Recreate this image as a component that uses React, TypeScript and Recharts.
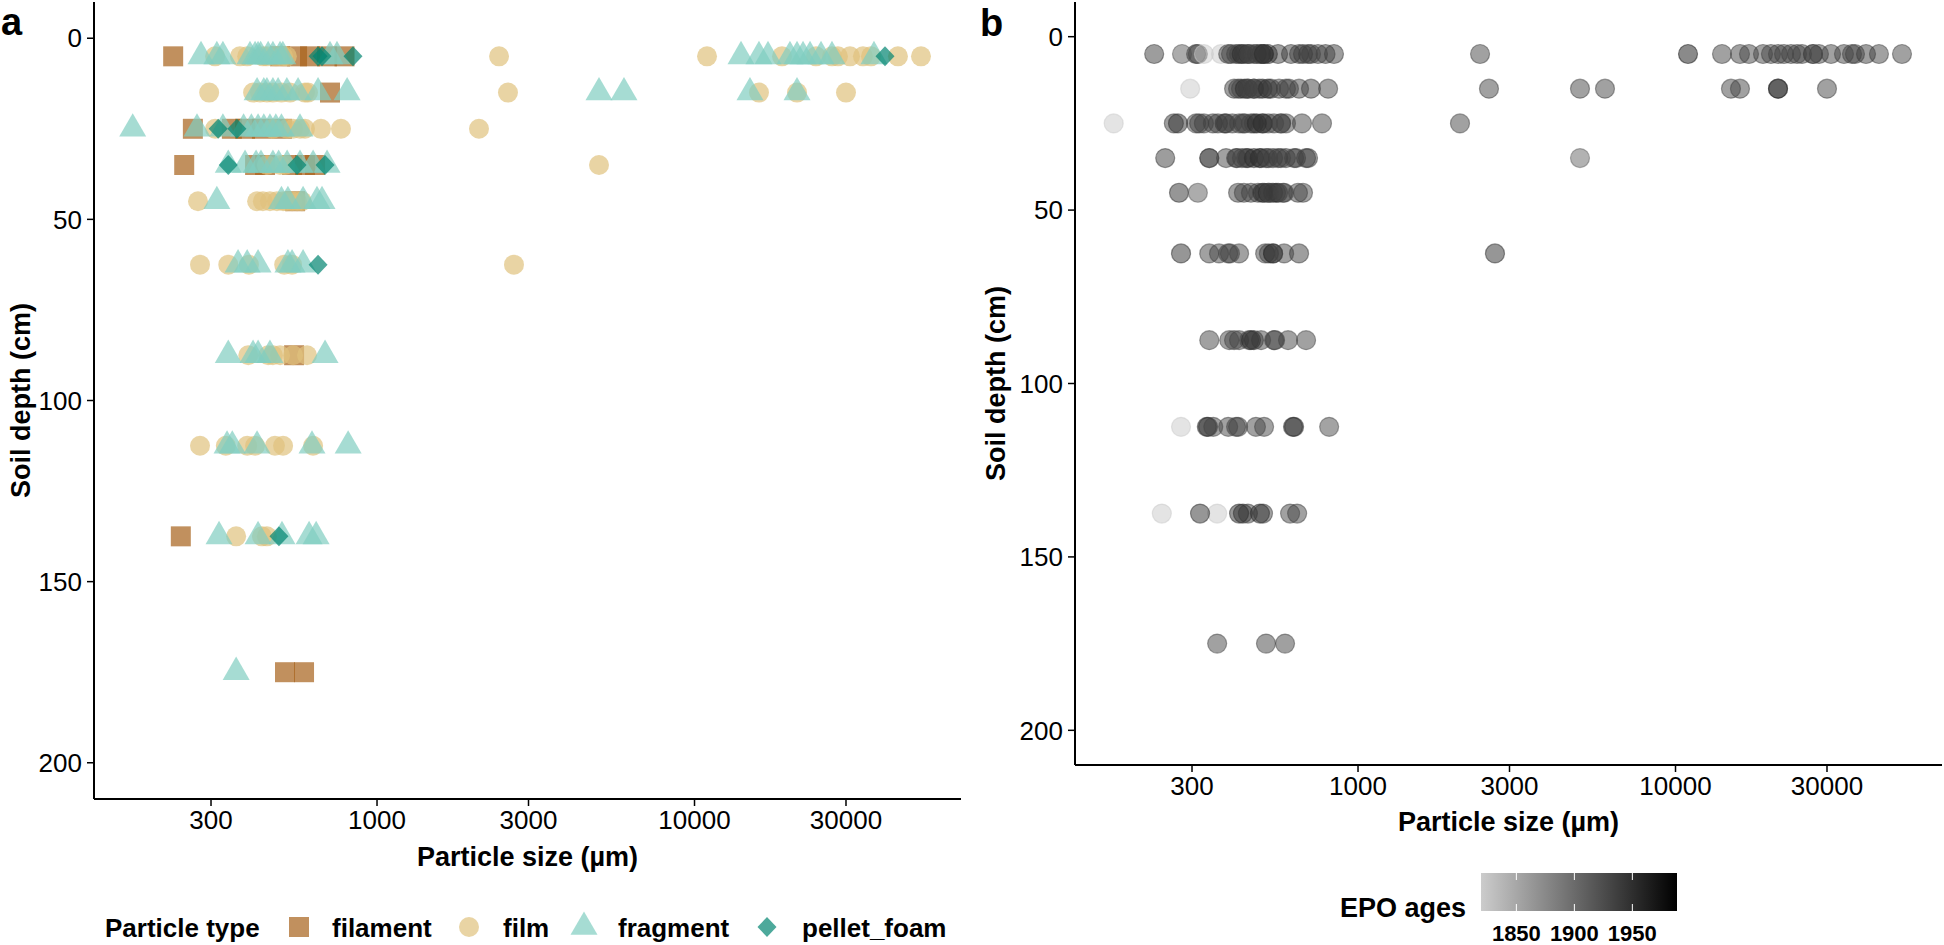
import React from "react";
import { ScatterChart, Scatter, XAxis, YAxis, Label } from "recharts";

// each particle: [soil depth (cm), particle size (µm), EPO year]
type Particle = [number, number, number];

const filament: Particle[] = [
  [5, 228, 1940], [5, 495, 1940], [5, 560, 1940], [5, 615, 1940], [5, 696, 1940], [5, 790, 1940],
  [15, 711, 1940],
  [25, 263, 1940], [25, 349, 1940], [25, 384, 1940], [25, 434, 1940], [25, 502, 1940],
  [35, 247, 1940], [35, 413, 1940], [35, 444, 1940], [35, 540, 1940], [35, 593, 1940], [35, 638, 1940],
  [45, 552, 1940],
  [87.5, 548, 1940],
  [137.5, 241, 1822],
  [175, 513, 1935], [175, 589, 1935],
];

const film: Particle[] = [
  [5, 309, 1950], [5, 370, 1822], [5, 390, 1933], [5, 437, 1933], [5, 450, 1950], [5, 480, 1950],
  [5, 506, 1933], [5, 520, 1950],
  [5, 2423, 1933], [5, 10950, 1970], [5, 18860, 1933], [5, 24140, 1933], [5, 27100, 1933],
  [5, 28300, 1933], [5, 30890, 1933], [5, 33930, 1933], [5, 35960, 1933], [5, 43730, 1933], [5, 51680, 1933],
  [15, 296, 1822], [15, 407, 1933], [15, 428, 1933], [15, 450, 1933], [15, 470, 1950], [15, 500, 1950],
  [15, 532, 1933], [15, 593, 1933],
  [15, 606, 1933], [15, 2585, 1933], [15, 15960, 1933], [15, 21030, 1950], [15, 30000, 1933],
  [25, 309, 1933], [25, 470, 1950], [25, 521, 1933], [25, 544, 1933], [25, 572, 1933], [25, 593, 1933],
  [25, 666, 1933], [25, 770, 1933], [25, 2095, 1933],
  [35, 450, 1950], [35, 495, 1933], [35, 513, 1933], [35, 5002, 1905],
  [45, 273, 1950], [45, 419, 1933], [45, 437, 1933], [45, 460, 1933], [45, 484, 1933], [45, 506, 1933],
  [45, 520, 1950], [45, 540, 1950], [45, 560, 1950], [45, 580, 1933],
  [62.5, 277, 1950], [62.5, 340, 1933], [62.5, 395, 1933], [62.5, 510, 1933], [62.5, 540, 1933],
  [62.5, 2700, 1950],
  [87.5, 393, 1933], [87.5, 454, 1933], [87.5, 470, 1950], [87.5, 495, 1933], [87.5, 544, 1933],
  [87.5, 602, 1933],
  [112.5, 277, 1822], [112.5, 334, 1950], [112.5, 390, 1933], [112.5, 413, 1933], [112.5, 477, 1933],
  [112.5, 506, 1933], [112.5, 629, 1950],
  [137.5, 360, 1822], [137.5, 434, 1950], [137.5, 450, 1933],
];

const fragment: Particle[] = [
  [5, 279, 1915], [5, 313, 1933], [5, 327, 1822], [5, 398, 1933], [5, 413, 1933], [5, 422, 1933],
  [5, 430, 1950], [5, 454, 1933], [5, 470, 1933], [5, 495, 1933], [5, 505, 1950], [5, 711, 1933],
  [5, 748, 1933],
  [5, 14010, 1933], [5, 15960, 1933], [5, 17040, 1933], [5, 19980, 1933], [5, 21030, 1933],
  [5, 21970, 1933], [5, 23110, 1933], [5, 25030, 1933], [5, 27100, 1933], [5, 36750, 1933],
  [15, 419, 1933], [15, 440, 1950], [15, 450, 1933], [15, 470, 1933], [15, 488, 1933], [15, 520, 1950],
  [15, 564, 1933], [15, 652, 1933],
  [15, 805, 1933], [15, 5002, 1933], [15, 5996, 1933], [15, 14950, 1933], [15, 21030, 1950],
  [25, 170, 1822], [25, 271, 1950], [25, 327, 1933], [25, 380, 1950], [25, 402, 1933], [25, 422, 1933],
  [25, 440, 1933], [25, 460, 1933], [25, 480, 1950], [25, 500, 1950], [25, 572, 1933],
  [35, 340, 1915], [35, 384, 1933], [35, 416, 1933], [35, 431, 1933], [35, 470, 1950], [35, 490, 1950],
  [35, 521, 1933], [35, 572, 1933],
  [35, 629, 1933], [35, 696, 1933],
  [45, 313, 1915], [45, 500, 1950], [45, 524, 1933], [45, 585, 1933], [45, 647, 1933], [45, 671, 1933],
  [62.5, 365, 1933], [62.5, 390, 1933], [62.5, 422, 1933], [62.5, 524, 1933], [62.5, 540, 1950],
  [62.5, 585, 1933],
  [87.5, 340, 1933], [87.5, 407, 1933], [87.5, 422, 1933], [87.5, 460, 1950], [87.5, 686, 1933],
  [112.5, 337, 1950], [112.5, 350, 1933], [112.5, 419, 1933], [112.5, 624, 1950], [112.5, 811, 1930],
  [137.5, 318, 1950], [137.5, 422, 1950], [137.5, 502, 1933], [137.5, 611, 1933], [137.5, 643, 1933],
  [175, 360, 1933],
];

const pelletFoam: Particle[] = [
  [5, 652, 1938], [5, 671, 1938], [5, 840, 1938], [5, 39810, 1938],
  [25, 316, 1938], [25, 362, 1938],
  [35, 340, 1938], [35, 560, 1938], [35, 686, 1938],
  [62.5, 652, 1938],
  [137.5, 491, 1950],
];

const SIZE_TICKS = [300, 1000, 3000, 10000, 30000];
const DEPTH_TICKS = [0, 50, 100, 150, 200];
const AGE_TICKS = [1850, 1900, 1950];
const SIZE_DOMAIN = [128.4, 69080];
const DEPTH_DOMAIN = [-10, 210];
const AGE_RANGE = [1819.5, 1988.5];

const TYPES = [
  { name: "filament", color: "#a6611a", kind: "square", rows: filament },
  { name: "film", color: "#dfc27d", kind: "circle", rows: film },
  { name: "fragment", color: "#80cdc1", kind: "triangle", rows: fragment },
  { name: "pellet_foam", color: "#018571", kind: "diamond", rows: pelletFoam },
];

const toPoints = (rows: Particle[]) => rows.map(([depth, size, year]) => ({ depth, size, year }));
const allPoints = TYPES.flatMap((t) => toPoints(t.rows));

const FONT = "'Liberation Sans', Arial, Helvetica, sans-serif";
const ALPHA_A = 0.7;

// grey80 -> black over the EPO age range
const ageGrey = (year: number) => {
  const t = Math.min(1, Math.max(0, (year - AGE_RANGE[0]) / (AGE_RANGE[1] - AGE_RANGE[0])));
  const c = Math.round(204 * (1 - t));
  return `rgb(${c},${c},${c})`;
};

const markerPath = (kind: string, cx: number, cy: number) => {
  switch (kind) {
    case "square":
      return `M${cx - 10},${cy - 10}h20v20h-20Z`;
    case "triangle":
      return `M${cx},${cy - 15.6}L${cx + 13.5},${cy + 7.8}L${cx - 13.5},${cy + 7.8}Z`;
    case "diamond":
      return `M${cx},${cy - 10}L${cx + 9.5},${cy}L${cx},${cy + 10}L${cx - 9.5},${cy}Z`;
    default:
      return `M${cx - 10},${cy}a10,10 0 1,0 20,0a10,10 0 1,0 -20,0`;
  }
};

const axisStyle = {
  axisLine: { stroke: "#000", strokeWidth: 2 },
  tickLine: { stroke: "#000", strokeWidth: 1.5 },
  tickSize: 7,
  tickMargin: 5,
  tick: { fill: "#000", fontSize: 26 },
};

const titleStyle = { fontWeight: 700, fontSize: 27, fill: "#000" };

const App: React.FC = () => {
  const barX = 1481;
  const barW = 196;
  const ageX = (y: number) => barX + ((y - AGE_RANGE[0]) / (AGE_RANGE[1] - AGE_RANGE[0])) * barW;

  // legend a positions
  const legendItems = [
    { x: 299, tx: 332 },
    { x: 469, tx: 503 },
    { x: 584, tx: 618 },
    { x: 767, tx: 802 },
  ];

  return (
    <div style={{ position: "absolute", left: 0, top: 0, width: 1944, height: 945, background: "#fff", fontFamily: FONT }}>
      <div style={{ position: "absolute", left: 0, top: 0 }}>
        <ScatterChart width={970} height={945} margin={{ top: 2, right: 9, left: 0, bottom: 0 }}>
          <XAxis
            type="number"
            dataKey="size"
            scale="log"
            domain={SIZE_DOMAIN}
            allowDataOverflow
            ticks={SIZE_TICKS}
            interval={0}
            height={146}
            {...axisStyle}
          >
            <Label value="Particle size (µm)" position="insideTop" offset={48} style={titleStyle} />
          </XAxis>
          <YAxis
            type="number"
            dataKey="depth"
            reversed
            domain={DEPTH_DOMAIN}
            allowDataOverflow
            ticks={DEPTH_TICKS}
            interval={0}
            width={94}
            {...axisStyle}
          >
            <Label value="Soil depth (cm)" angle={-90} position="insideLeft" offset={20} style={{ ...titleStyle, textAnchor: "middle" }} />
          </YAxis>
          {TYPES.map((t) => (
            <Scatter
              key={t.name}
              name={t.name}
              data={toPoints(t.rows)}
              isAnimationActive={false}
              shape={(p: any) => <path d={markerPath(t.kind, p.cx, p.cy)} fill={t.color} fillOpacity={ALPHA_A} />}
            />
          ))}
        </ScatterChart>
      </div>

      <div style={{ position: "absolute", left: 975, top: 0 }}>
        <ScatterChart width={969} height={945} margin={{ top: 2, right: 2, left: 0, bottom: 0 }}>
          <XAxis
            type="number"
            dataKey="size"
            scale="log"
            domain={SIZE_DOMAIN}
            allowDataOverflow
            ticks={SIZE_TICKS}
            interval={0}
            height={180}
            {...axisStyle}
          >
            <Label value="Particle size (µm)" position="insideTop" offset={47} style={titleStyle} />
          </XAxis>
          <YAxis
            type="number"
            dataKey="depth"
            reversed
            domain={DEPTH_DOMAIN}
            allowDataOverflow
            ticks={DEPTH_TICKS}
            interval={0}
            width={100}
            {...axisStyle}
          >
            <Label value="Soil depth (cm)" angle={-90} position="insideLeft" offset={20} style={{ ...titleStyle, textAnchor: "middle" }} />
          </YAxis>
          <Scatter
            name="EPO ages"
            data={allPoints}
            isAnimationActive={false}
            shape={(p: any) => {
              const g = ageGrey(p.payload.year);
              return <circle cx={p.cx} cy={p.cy} r={9.5} fill={g} fillOpacity={0.5} stroke={g} strokeOpacity={0.5} strokeWidth={1.2} />;
            }}
          />
        </ScatterChart>
      </div>

      <svg width={1944} height={945} style={{ position: "absolute", left: 0, top: 0, pointerEvents: "none" }}>
        <defs>
          <linearGradient id="epo" x1="0" x2="1" y1="0" y2="0">
            <stop offset="0%" stopColor={ageGrey(AGE_RANGE[0])} />
            <stop offset="100%" stopColor={ageGrey(AGE_RANGE[1])} />
          </linearGradient>
        </defs>
        <text x={1} y={35} fontSize={38} fontWeight={700} fill="#000">a</text>
        <text x={980} y={36} fontSize={38} fontWeight={700} fill="#000">b</text>

        {/* legend a */}
        <text x={105} y={937} fontSize={26} fontWeight={700} fill="#000">Particle type</text>
        {TYPES.map((t, i) => (
          <g key={t.name}>
            <path d={markerPath(t.kind, legendItems[i].x, 927)} fill={t.color} fillOpacity={ALPHA_A} />
            <text x={legendItems[i].tx} y={937} fontSize={26} fontWeight={700} fill="#000">{t.name}</text>
          </g>
        ))}

        {/* legend b */}
        <text x={1340} y={917} fontSize={27} fontWeight={700} fill="#000">EPO ages</text>
        <rect x={barX} y={873} width={barW} height={38} fill="url(#epo)" />
        {AGE_TICKS.map((y) => (
          <g key={y}>
            <line x1={ageX(y)} x2={ageX(y)} y1={873} y2={880} stroke="#fff" strokeWidth={1} />
            <line x1={ageX(y)} x2={ageX(y)} y1={904} y2={911} stroke="#fff" strokeWidth={1} />
            <text x={ageX(y)} y={941} textAnchor="middle" fontSize={22} fontWeight={700} fill="#000">{y}</text>
          </g>
        ))}
      </svg>
    </div>
  );
};

export default App;
